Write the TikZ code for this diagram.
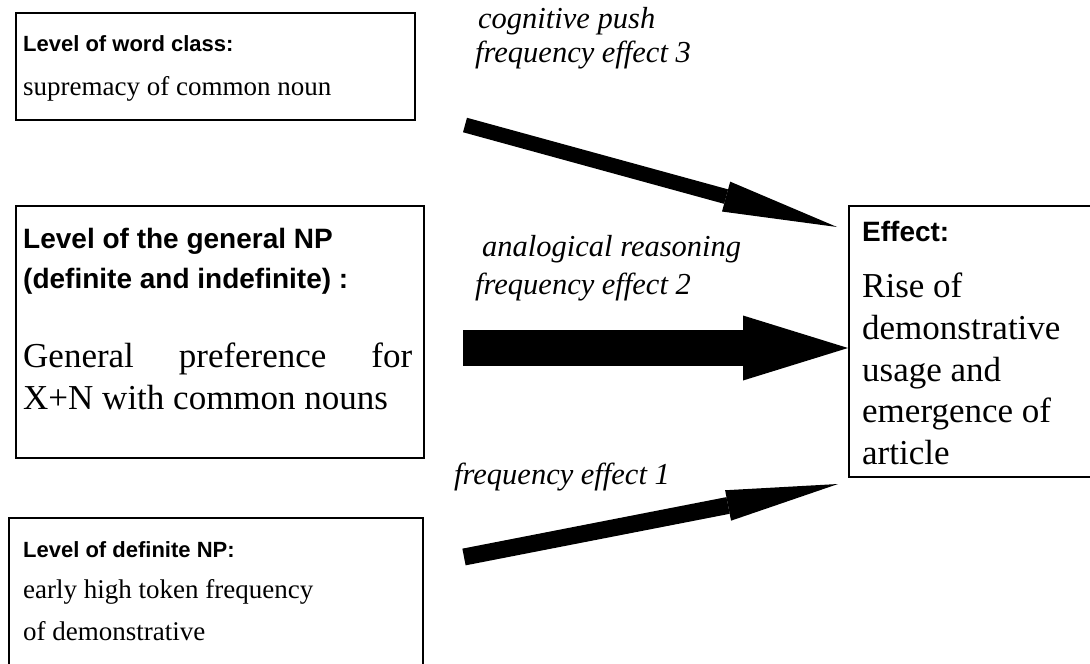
\documentclass[tikz,border=0pt]{standalone}
\usepackage{fontspec}
\setmainfont{Liberation Serif}
\setsansfont{Liberation Sans}
\usetikzlibrary{arrows.meta}
\begin{document}
\begin{tikzpicture}[x=1pt,y=-1pt,
  box/.style={draw=black, line width=1.6pt, rectangle, inner sep=0pt, anchor=north west},
  txt/.style={anchor=base west, inner sep=0pt},
  smalltitle/.style={txt, font=\fontsize{22}{26}\selectfont\sffamily\bfseries},
  bigtitle/.style={txt, font=\fontsize{28}{33}\selectfont\sffamily\bfseries},
  smallbody/.style={txt, font=\fontsize{27}{32}\selectfont},
  bigbody/.style={txt, font=\fontsize{35}{42}\selectfont},
  lbl/.style={txt, font=\fontsize{30.5}{36}\selectfont\itshape},
  blockarrow/.style={draw=black, line cap=butt}
]
\useasboundingbox (0,0) rectangle (1090,664);
\clip (0,0) rectangle (1090,664);
\fill[white] (0,0) rectangle (1090,664);

% boxes
\node[box, minimum width=399pt, minimum height=107pt] (wc) at (15,12) {};
\node[box, minimum width=408pt, minimum height=252pt] (np) at (15,205) {};
\node[box, minimum width=414pt, minimum height=170pt] (dnp) at (8,517) {};
\node[box, minimum width=260pt, minimum height=271pt] (eff) at (848,205) {};

% box texts
\node[smalltitle] (wct) at (23,51) {Level of word class:};
\node[smallbody] (wcb) at (23,95) {supremacy of common noun};

\node[bigtitle] (npt1) at (23,248) {Level of the general NP};
\node[bigtitle] (npt2) at (23,288) {(definite and indefinite) :};
\node[bigbody] (npb1) at (23,367) {\makebox[389pt][s]{General preference for}};
\node[bigbody] (npb2) at (23,409) {X+N with common nouns};

\node[smalltitle] (dnpt) at (23,557) {Level of definite NP:};
\node[smallbody] (dnpb1) at (23,598) {early high token frequency};
\node[smallbody] (dnpb2) at (23,640) {of demonstrative};

\node[bigtitle] (efft) at (862,241) {Effect:};
\node[bigbody] (eff1) at (862,297) {Rise of};
\node[bigbody] (eff2) at (862,339) {demonstrative};
\node[bigbody] (eff3) at (862,381) {usage and};
\node[bigbody] (eff4) at (862,422) {emergence of};
\node[bigbody] (eff5) at (862,464) {article};

% arrow labels
\node[lbl] (l3a) at (478,28) {cognitive push};
\node[lbl] (l3b) at (475,62) {frequency effect 3};
\node[lbl] (l2a) at (482,256) {analogical reasoning};
\node[lbl] (l2b) at (475,294) {frequency effect 2};
\node[lbl] (l1) at (454,484) {frequency effect 1};

% arrows
\coordinate (t1) at (465,125);
\coordinate (h1) at (837,227);
\coordinate (t2) at (463,348);
\coordinate (h2) at (848,348);
\coordinate (t3) at (464,557);
\coordinate (h3) at (838,484);

\draw[blockarrow, line width=15pt, -{Triangle[length=115pt,width=31pt,line width=0pt]}] (t1) -- (h1);
\draw[blockarrow, line width=36pt, -{Triangle[length=105pt,width=65pt,line width=0pt]}] (t2) -- (h2);
\draw[blockarrow, line width=17pt, -{Triangle[length=112pt,width=31pt,line width=0pt]}] (t3) -- (h3);
\end{tikzpicture}
\end{document}
